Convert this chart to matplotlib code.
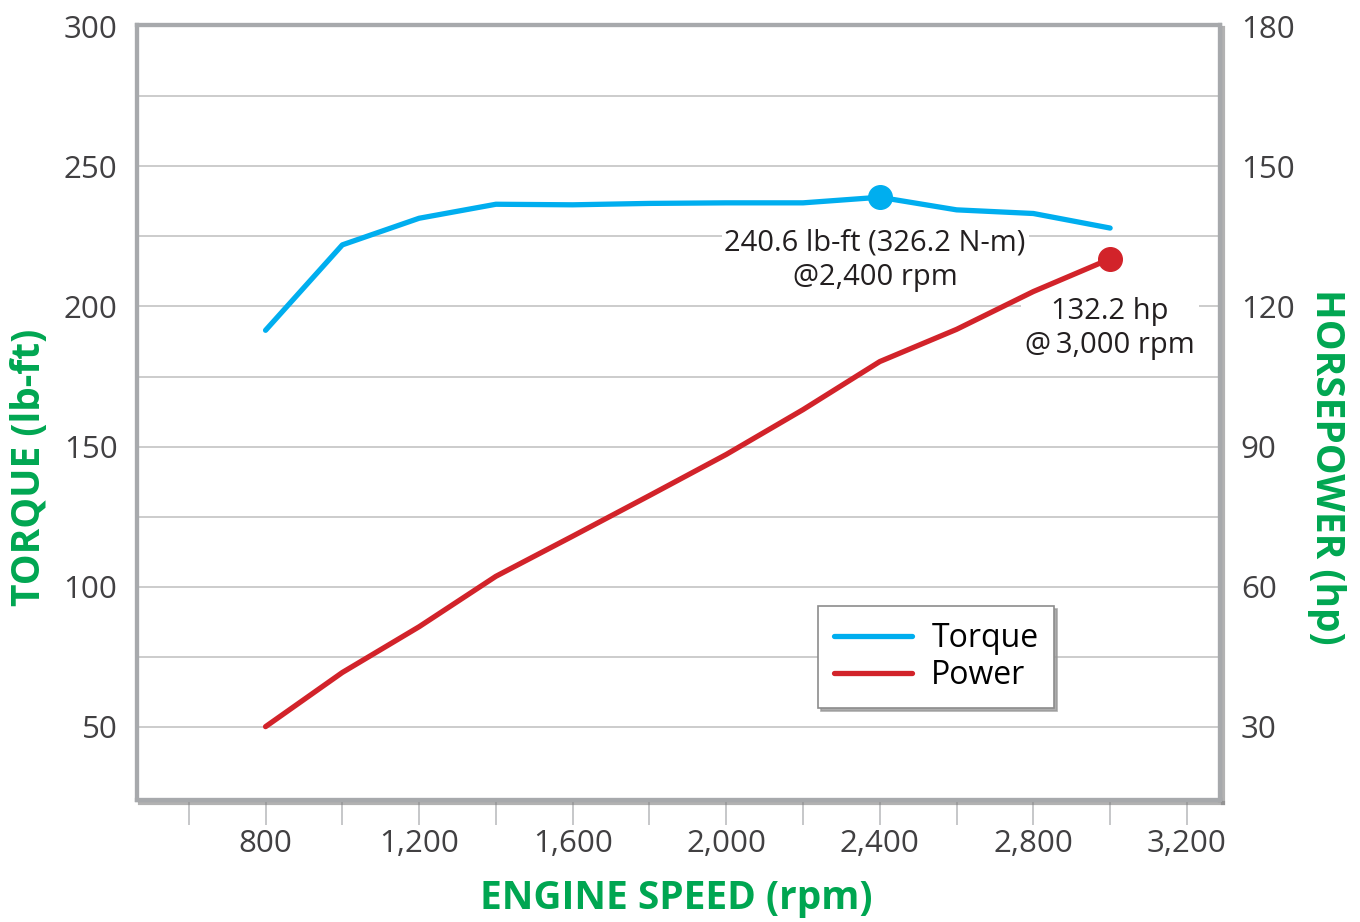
import numpy as np
import matplotlib
matplotlib.use("Agg")
import matplotlib.pyplot as plt
import matplotlib.patheffects as pe
from matplotlib.ticker import MultipleLocator, FuncFormatter

rpm = [800, 1000, 1200, 1400, 1600, 1800, 2000, 2200, 2400, 2600, 2800, 3000]
torque = [191.5, 222.0, 231.5, 236.5, 236.3, 236.8, 237.0, 237.0, 239.0, 234.5, 233.2, 228.0]
power = [30.0, 41.6, 51.4, 62.2, 70.8, 79.5, 88.3, 97.9, 108.2, 115.1, 123.2, 130.2]
torque_note = "240.6 lb-ft (326.2 N-m)\n@2,400 rpm"
power_note = "132.2 hp\n@\u20093,000 rpm"

plt.rcParams['font.family'] = ['Open Sans', 'DejaVu Sans']

blue = "#00aeef"
red = "#d2232a"
green = "#00a651"
frame = "#a7a9ac"

fig = plt.figure(figsize=(13.6, 9.22), dpi=100)
ax = fig.add_axes([0.1007, 0.1323, 0.7963, 0.8406])
ax2 = ax.twinx()

ax.set_xlim(465, 3286)
ax.set_ylim(23.8, 300.5)
ax2.set_ylim(23.8 * 0.6, 300.5 * 0.6)

# grid
for v in np.arange(50, 300, 25):
    ax.axhline(v, color="#c8c8c8", lw=1.3, zorder=0)

torque_hp_scale = [t * 0.6 for t in torque]
l1, = ax2.plot(rpm, torque_hp_scale, color=blue, lw=3.8,
               solid_capstyle="round", zorder=3, label="Torque")
l2, = ax2.plot(rpm, power, color=red, lw=3.8, solid_capstyle="round", zorder=3, label="Power")
i_t = rpm.index(2400)
i_p = rpm.index(3000)
ax2.plot(rpm[i_t], torque_hp_scale[i_t], "o", color=blue, ms=17, zorder=4)
ax2.plot(rpm[i_p], power[i_p], "o", color=red, ms=17, zorder=4)

# notes sit above the grid but under the curves
ax2.text(2388, 129.9, torque_note, ha="center", va="center",
         fontsize=21, color="#231f20", linespacing=1.25, zorder=2,
         bbox=dict(facecolor="white", edgecolor="none", pad=2))
ax2.text(3000, 115.3, power_note, ha="center", va="center",
         fontsize=21, color="#231f20", linespacing=1.25, zorder=2,
         bbox=dict(facecolor="white", edgecolor="none", pad=3))

# ticks
ax.set_xticks([800, 1200, 1600, 2000, 2400, 2800, 3200])
ax.xaxis.set_minor_locator(MultipleLocator(200))
ax.xaxis.set_major_formatter(FuncFormatter(lambda v, p: f"{int(v):,}"))
ax.tick_params(axis="x", which="both", direction="out", length=18, width=1.2,
               color="#bcbec0", labelsize=22.5, labelcolor="#414042", pad=3)
ax.set_yticks(np.arange(50, 301, 50))
ax.tick_params(axis="y", length=0, labelsize=22.5, labelcolor="#414042", pad=14)
ax2.set_yticks(np.arange(30, 181, 30))
ax2.tick_params(axis="y", length=0, labelsize=22.5, labelcolor="#414042", pad=15)

fig.text(0.4975, 0.026, "ENGINE SPEED (rpm)", fontsize=28, fontweight="bold",
         color=green, ha="center", va="center")
fig.text(0.0215, 0.4935, "TORQUE (lb-ft)", fontsize=28, fontweight="bold",
         color=green, ha="center", va="center", rotation=90)
fig.text(0.9757, 0.4935, "HORSEPOWER (hp)", fontsize=28, fontweight="bold",
         color=green, ha="center", va="center", rotation=-90)

for a in (ax, ax2):
    for s in a.spines.values():
        s.set_color(frame)
        s.set_linewidth(3)
for name in ("right", "bottom"):
    ax2.spines[name].set_path_effects([pe.SimpleLineShadow(offset=(2, -2), shadow_color="#808080", alpha=0.6), pe.Normal()])

leg = ax2.legend(handles=[l1, l2], loc="upper left", bbox_to_anchor=(0.6288, 0.2503),
                 borderaxespad=0, fontsize=23, frameon=True, fancybox=False,
                 shadow={"color": "#999999", "alpha": 0.8},
                 edgecolor="#8c8c8c", handlelength=2.45, handletextpad=0.6,
                 labelspacing=0.12, borderpad=0.5, framealpha=1)
leg.get_frame().set_linewidth(1.2)

fig.savefig("out.png", dpi=100)
